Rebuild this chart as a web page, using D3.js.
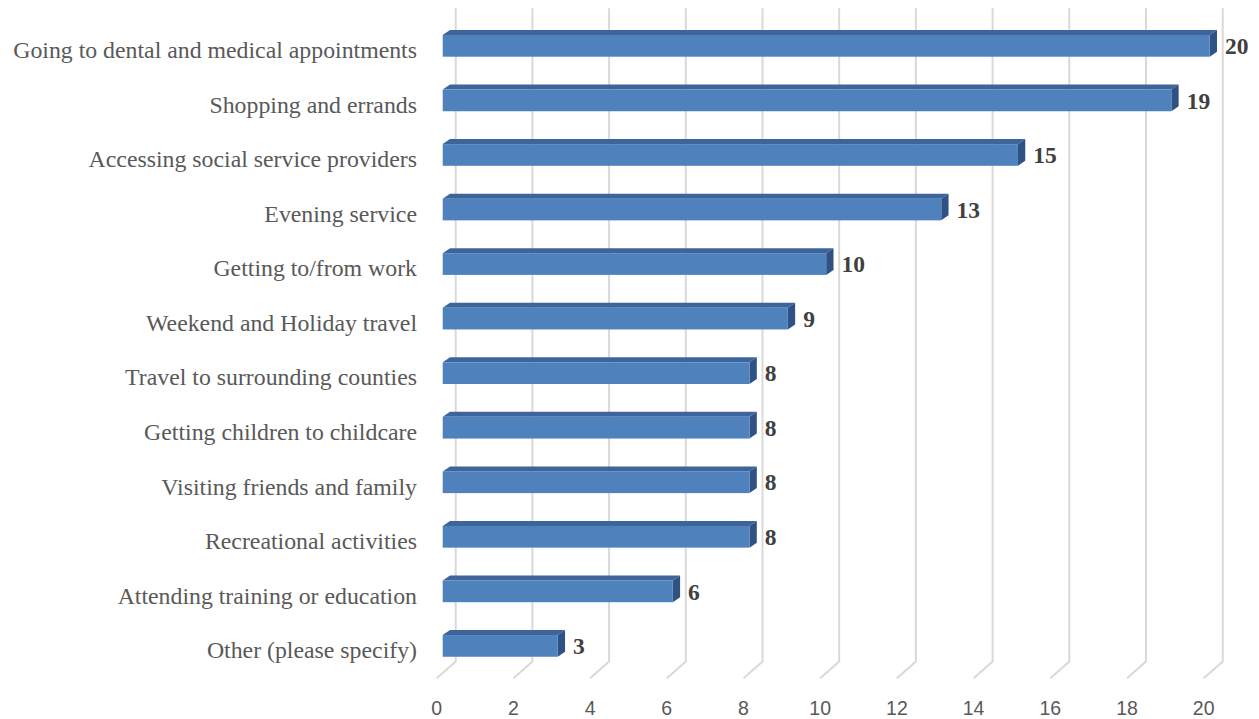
<!DOCTYPE html>
<html>
<head>
<meta charset="utf-8">
<script src="https://cdn.jsdelivr.net/npm/d3@7/dist/d3.min.js"></script>
<style>
  html, body { margin: 0; padding: 0; background: #ffffff; }
  svg { display: block; }
</style>
</head>
<body>
<svg id="chart" width="1259" height="719"></svg>
<script>
// Trip purposes and number of responses
const categories = [
  "Going to dental and medical appointments",
  "Shopping and errands",
  "Accessing social service providers",
  "Evening service",
  "Getting to/from work",
  "Weekend and Holiday travel",
  "Travel to surrounding counties",
  "Getting children to childcare",
  "Visiting friends and family",
  "Recreational activities",
  "Attending training or education",
  "Other (please specify)"
];
const values = [20, 19, 15, 13, 10, 9, 8, 8, 8, 8, 6, 3];
const tickValues = [0, 2, 4, 6, 8, 10, 12, 14, 16, 18, 20];

const svg = d3.select("#chart");

// 3D layout: front floor edge, back wall offset, bar depth offset
const frontX0 = 436.7;     // value 0 on the front edge of the floor
const floorY = 678.3;      // front edge of the floor
const wall = { dx: 19, dy: -16.7 };   // depth of the plot box
const barShift = 6;        // bar front face sits this far into the box
const barDepth = { dx: 7.3, dy: -5 };
const wallTop = 8.3;

const x = d3.scaleLinear().domain([0, 20]).range([0, 767]);

const rowStep = 54.55, barH = 21.7, firstTop = 35;
const y = d3.scaleBand()
  .domain(categories)
  .range([firstTop, firstTop + (categories.length - 1) * rowStep + barH])
  .paddingInner(1 - barH / rowStep)
  .paddingOuter(0)
  .align(0);

// Gridlines: vertical on the back wall, diagonal across the floor
const grid = svg.append("g").attr("class", "grid");
tickValues.forEach(t => {
  const xf = frontX0 + x(t);
  const xb = xf + wall.dx;
  const yb = floorY + wall.dy;
  grid.append("path")
    .attr("d", `M${xb},${wallTop}L${xb},${yb}L${xf},${floorY}`)
    .attr("fill", "none")
    .attr("stroke", "#d9d9d9")
    .attr("stroke-width", 2);
});

// Bars
const bx0 = frontX0 + barShift;
const bars = svg.append("g").attr("class", "bars");
categories.forEach((c, i) => {
  const v = values[i];
  const top = y(c);
  const h = y.bandwidth();
  const x1 = bx0 + x(v);
  const dx = barDepth.dx, dy = barDepth.dy;
  // top face
  bars.append("path")
    .attr("d", `M${bx0},${top}L${bx0 + dx},${top + dy}L${x1 + dx},${top + dy}L${x1},${top}Z`)
    .attr("fill", "#3d659b");
  // side face
  bars.append("path")
    .attr("d", `M${x1},${top}L${x1 + dx},${top + dy}L${x1 + dx},${top + h + dy}L${x1},${top + h}Z`)
    .attr("fill", "#2f5184");
  // front face
  bars.append("rect")
    .attr("x", bx0).attr("y", top)
    .attr("width", x(v)).attr("height", h)
    .attr("fill", "#4f81bd");
  // value label
  bars.append("text")
    .attr("x", x1 + dx + 8)
    .attr("y", top + h / 2)
    .attr("dy", "0.35em")
    .attr("font-family", "'Liberation Serif', 'Times New Roman', serif")
    .attr("font-weight", "bold")
    .attr("font-size", 23.5)
    .attr("fill", "#404040")
    .text(v);
});

// Category labels
svg.append("g").selectAll("text")
  .data(categories)
  .join("text")
  .attr("x", 417)
  .attr("y", d => y(d) + y.bandwidth() / 2 + 4)
  .attr("dy", "0.35em")
  .attr("text-anchor", "end")
  .attr("font-family", "'Liberation Serif', 'Times New Roman', serif")
  .attr("font-size", 23.8)
  .attr("fill", "#595959")
  .text(d => d);

// Value axis tick labels along the front edge
svg.append("g").selectAll("text")
  .data(tickValues)
  .join("text")
  .attr("x", d => frontX0 + x(d))
  .attr("y", 708)
  .attr("dy", "0.35em")
  .attr("text-anchor", "middle")
  .attr("font-family", "'Liberation Sans', Arial, sans-serif")
  .attr("font-size", 19.5)
  .attr("fill", "#595959")
  .text(d => d);
</script>
</body>
</html>
